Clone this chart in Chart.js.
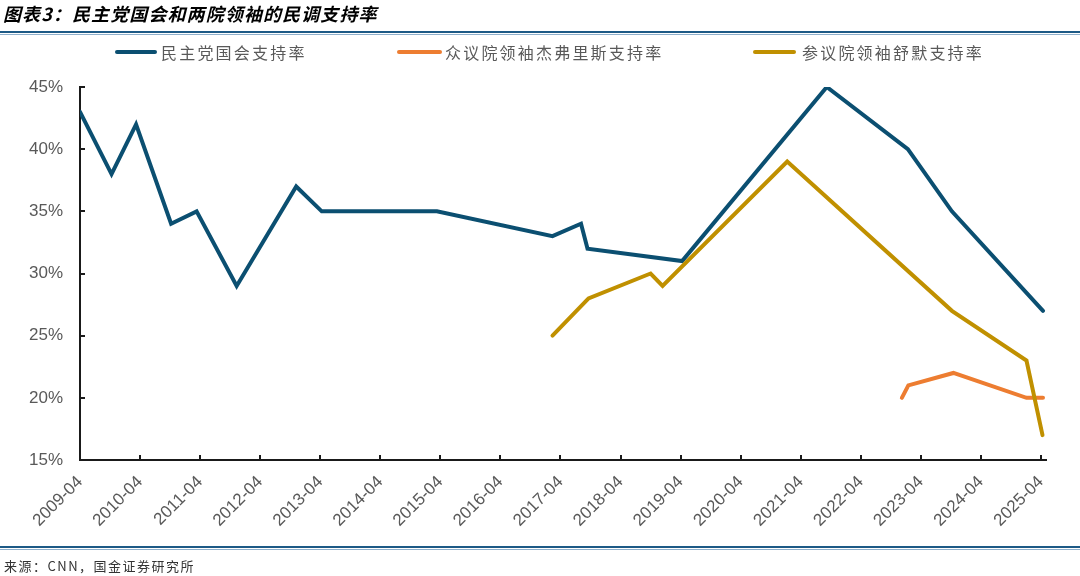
<!DOCTYPE html>
<html>
<head>
<meta charset="utf-8">
<script src="https://cdn.jsdelivr.net/npm/chart.js@4.4.1/dist/chart.umd.min.js"></script>
<style>
body{margin:0;background:#fff;}
#wrap{position:relative;width:1080px;height:576px;overflow:hidden;font-family:'Noto Sans CJK SC',sans-serif;}
#chart{position:absolute;left:0;top:0;}
.title{position:absolute;left:3px;top:1px;line-height:24px;font-size:18px;font-weight:bold;font-style:italic;color:#000;letter-spacing:1.1px;white-space:nowrap;}
.rule1{position:absolute;left:0;width:1080px;height:2px;background:#1d5a86;}
.rule2{position:absolute;left:0;width:1080px;height:1px;background:#8fb0cc;}
.leg{position:absolute;top:42px;height:20px;line-height:20px;font-size:16px;color:#595959;white-space:nowrap;letter-spacing:2.2px;}
.leg i{position:absolute;top:8px;height:4px;border-radius:2px;}
.src{position:absolute;left:4px;top:558px;line-height:16px;font-size:13px;color:#333;letter-spacing:1.5px;white-space:nowrap;}
</style>
</head>
<body>
<div id="wrap">
  <canvas id="chart" width="1080" height="576"></canvas>
  <div class="title">图表3：民主党国会和两院领袖的民调支持率</div>
  <div class="rule1" style="top:31px"></div>
  <div class="rule2" style="top:33.5px"></div>
  <div class="leg" style="left:161px"><i style="left:-46px;width:42px;background:#0b4f71"></i>民主党国会支持率</div>
  <div class="leg" style="left:445px"><i style="left:-48px;width:45px;background:#ed7d31"></i>众议院领袖杰弗里斯支持率</div>
  <div class="leg" style="left:802px"><i style="left:-49px;width:43px;background:#c09000"></i>参议院领袖舒默支持率</div>
  <div class="rule1" style="top:546px"></div>
  <div class="rule2" style="top:548.5px"></div>
  <div class="src">来源：CNN，国金证券研究所</div>
</div>
<script>
// series (dates, values in %)
const demDates = ['2009-04-01','2009-10-10','2010-03-07','2010-10-07','2011-03-10','2011-11-10','2012-11-07','2013-04-10','2015-03-10','2017-02-13','2017-08-04','2017-09-13','2019-04-10','2021-09-07','2023-01-13','2023-10-07','2025-04-13'];
const demValues = [43,38,42,34,35,29,37,35,35,33,34,32,31,45,40,35,27];

const jeffriesDates = ['2022-12-07','2023-01-16','2023-10-16','2025-01-04','2025-04-13'];
const jeffriesValues = [20,21,22,20,20];

const schumerDates = ['2017-02-13','2017-09-19','2018-10-01','2018-12-13','2021-01-10','2023-10-07','2025-01-04','2025-04-10'];
const schumerValues = [25,28,30,29,39,27,23,17];

const seriesNames = ['民主党国会支持率','众议院领袖杰弗里斯支持率','参议院领袖舒默支持率'];
const xTickLabels = ['2009-04','2010-04','2011-04','2012-04','2013-04','2014-04','2015-04','2016-04','2017-04','2018-04','2019-04','2020-04','2021-04','2022-04','2023-04','2024-04','2025-04'];
const yTicks = [15,20,25,30,35,40,45];

// months since 2009-04
function toMonth(s){
  const p = s.split('-').map(Number);
  const d = p[2] ? (p[2]-1)/30 : 0;
  return (p[0]-2009)*12 + (p[1]-4) + d;
}
function pts(dates, vals){ return dates.map((d,i) => ({x: toMonth(d), y: vals[i]})); }

// short tick marks pointing into the plot
const innerTicks = {
  id: 'innerTicks',
  beforeDatasetsDraw(chart){
    const {ctx, scales:{x, y}} = chart;
    ctx.save();
    ctx.strokeStyle = '#1a1a1a';
    ctx.lineWidth = 2;
    x.ticks.forEach(t => {
      const px = Math.round(x.getPixelForValue(t.value));
      ctx.beginPath(); ctx.moveTo(px, y.bottom); ctx.lineTo(px, y.bottom - 5); ctx.stroke();
    });
    y.ticks.forEach(t => {
      const py = Math.round(y.getPixelForValue(t.value));
      ctx.beginPath(); ctx.moveTo(x.left, py); ctx.lineTo(x.left + 5, py); ctx.stroke();
    });
    ctx.restore();
  }
};

Chart.defaults.font.family = "'Liberation Sans', Arial, sans-serif";

new Chart(document.getElementById('chart'), {
  type: 'line',
  data: {
    datasets: [
      {label: seriesNames[0], data: pts(demDates, demValues), borderColor: '#0b4f71', order: 2},
      {label: seriesNames[1], data: pts(jeffriesDates, jeffriesValues), borderColor: '#ed7d31', order: 1},
      {label: seriesNames[2], data: pts(schumerDates, schumerValues), borderColor: '#c09000', order: 0}
    ]
  },
  options: {
    responsive: false,
    animation: false,
    devicePixelRatio: 1,
    layout: {padding: {top: 87, right: 34, left: 0, bottom: 0}},
    elements: {
      line: {borderWidth: 4, tension: 0, fill: false, borderJoinStyle: 'miter', borderCapStyle: 'round'},
      point: {radius: 0, hoverRadius: 0}
    },
    plugins: {legend: {display: false}, tooltip: {enabled: false}},
    scales: {
      x: {
        type: 'linear', min: 0, max: 193,
        grid: {display: false, drawTicks: false},
        border: {display: true, color: '#1a1a1a', width: 2},
        afterBuildTicks: s => { s.ticks = xTickLabels.map(l => ({value: toMonth(l)})); },
        afterFit: s => { s.height = 116; },
        ticks: {
          autoSkip: false, minRotation: 45, maxRotation: 45, padding: 12,
          color: '#595959', font: {size: 17},
          callback: (v, i) => xTickLabels[i]
        }
      },
      y: {
        min: 15, max: 45,
        grid: {display: false, drawTicks: false},
        border: {display: true, color: '#1a1a1a', width: 2},
        afterBuildTicks: s => { s.ticks = yTicks.map(v => ({value: v})); },
        afterFit: s => { s.width = 80; },
        ticks: {padding: 17, color: '#595959', font: {size: 17}, callback: v => v + '%'}
      }
    }
  },
  plugins: [innerTicks]
});
</script>
</body>
</html>
